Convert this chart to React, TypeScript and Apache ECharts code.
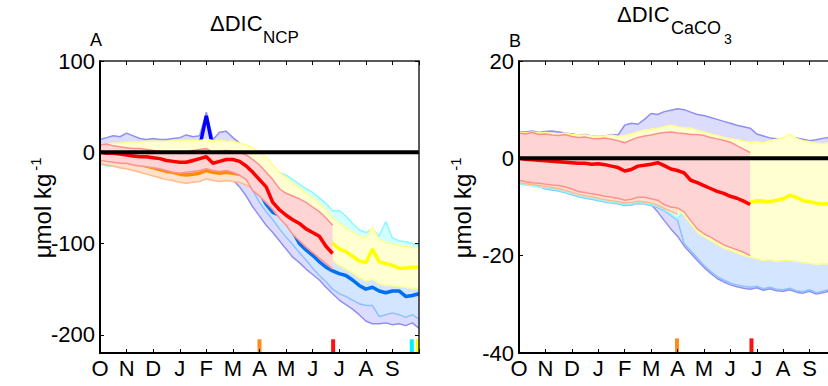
import React, { useEffect, useRef } from 'react';
import * as echarts from 'echarts';

const FONT = '"Liberation Sans", Arial, Helvetica, sans-serif';
const STEP = 0.25; // months between samples (Oct 1 = 0)
const monthLabels = ['O', 'N', 'D', 'J', 'F', 'M', 'A', 'M', 'J', 'J', 'A', 'S'];
const xRange = [0, 12];
const yRangeA = [-220, 100];
const yTicksA = [-200, -100, 0, 100];
const yRangeB = [-40, 20];
const yTicksB = [-40, -20, 0, 20];
const zeroLevel = 0;

const endMarkA = [6.0, 8.77, 11.73, 11.95];
const endMarkColorsA = ['#ff8c1a', '#ff1010', '#00f0ff', '#ffff00'];
const endMarkSpanA = [-220, -205];
const endMarkB = [5.98, 8.8];
const endMarkColorsB = ['#ff8c1a', '#ff1010'];
const endMarkSpanB = [-40, -37];

// ---------------- Panel A : ΔDIC_NCP ----------------
const purpleHiA = [14,16,18,17,21,18,15,14,15,14,14,15,16,19,17,18,44,14,22,23,16,10,0,-4,-8,-13,-22,-30,-36,-42,-47,-53,-58,-64,-71,-80,-86,-91,-96,-100,-102,-100,-104,-107,-109,-110,-111,-112,-113];
const purpleLoA = [-8,-9,-10,-12,-13,-15,-16,-17,-19,-20,-21,-23,-24,-24,-23,-22,-19,-21,-22,-24,-30,-38,-48,-60,-70,-80,-88,-97,-106,-115,-121,-128,-134,-140,-148,-155,-162,-167,-172,-178,-185,-188,-188,-187,-189,-188,-190,-187,-193];
const purpleMeanA = [3,4,5,4,6,5,3,3,4,3,3,4,5,6,5,6,40,4,8,9,4,-10,-22,-34,-46,-52,-58,-67,-76,-84,-92,-100,-106,-113,-118,-122,-125,-127,-132,-138,-142,-140,-144,-146,-144,-144,-150,-149,-147];

const lbHiA = [6,6,6,5,5,5,4,4,4,3,3,3,3,3,3,3,4,3,3,3,2,2,-10,-22,-34,-40,-46,-55,-64,-72,-80,-88,-94,-101,-106,-110,-113,-115,-120,-126,-130,-128,-132,-134,-132,-132,-138,-137,-135];
const lbLoA = [-7,-8,-9,-11,-12,-14,-15,-16,-18,-19,-20,-22,-23,-23,-22,-21,-18,-20,-21,-22,-24,-26,-32,-42,-55,-65,-74,-84,-93,-101,-110,-118,-127,-135,-142,-150,-155,-158,-162,-166,-168,-168,-180,-178,-176,-178,-181,-178,-183];
const lbMeanA = [-2,-3,-3,-4,-5,-6,-7,-7,-8,-9,-11,-12,-13,-13,-11,-9,-7,-14,-12,-10,-10,-18,-26,-36,-44,-57,-66,-69,-77,-87,-100,-107,-113,-120,-126,-130,-133,-135,-140,-146,-150,-148,-152,-154,-152,-152,-158,-157,-155];

const cyanHiA = [3,4,3,3,4,5,4,3,4,5,4,3,4,5,6,5,6,5,4,3,2,2,-2,-6,-10,-14,-18,-22,-25,-30,-35,-40,-44,-50,-56,-64,-64,-70,-78,-85,-88,-84,-92,-76,-94,-97,-98,-100,-102];
const cyanLoA = [-13,-15,-15,-17,-17,-19,-20,-21,-22,-23,-24,-25,-26,-26,-25,-24,-22,-24,-24,-23,-24,-20,-27,-35,-43,-50,-57,-65,-71,-77,-83,-90,-95,-101,-107,-113,-119,-123,-127,-132,-136,-134,-139,-141,-141,-142,-143,-144,-144];

const yellowHiA = [8,9,10,10,11,11,11,12,12,12,12,13,13,13,13,13,14,13,13,12,12,10,8,5,0,-5,-14,-22,-28,-34,-39,-45,-50,-56,-63,-72,-78,-83,-88,-92,-94,-82,-96,-99,-101,-102,-103,-104,-105];
const yellowLoA = [-10,-11,-12,-13,-14,-15,-16,-17,-18,-19,-20,-21,-22,-22,-21,-20,-18,-20,-20,-20,-22,-25,-32,-40,-48,-55,-62,-70,-76,-82,-88,-95,-100,-106,-112,-118,-124,-128,-132,-137,-141,-139,-144,-146,-146,-147,-148,-149,-149];
const yellowMeanA = [2,1,1,0,-1,-2,-3,-3,-4,-5,-7,-8,-9,-9,-7,-5,-3,-10,-8,-6,-6,-4,-8,-14,-21,-29,-42,-51,-57,-61,-65,-70,-75,-80,-90,-100,-106,-109,-114,-119,-121,-106,-120,-122,-124,-127,-127,-126,-126];

const orangeHiA = [5,3,2,0,-1,-3,-5,-7,-9,-11,-13,-14,-16,-17,-16,-15,-12,-14,-15,-14,-15,-16,-19,-23,-26];
const orangeLoA = [-12,-14,-15,-17,-18,-20,-22,-24,-26,-28,-30,-31,-33,-34,-33,-32,-29,-31,-32,-31,-32,-33,-36,-40,-43];
const orangeMeanA = [-3,-5,-6,-8,-9,-11,-13,-15,-17,-19,-21,-22,-24,-25,-24,-23,-20,-22,-23,-22,-23,-24,-27,-31,-34];

const redHiA = [8,9,7,6,5,4,4,3,2,1,0,-1,-1,0,2,3,4,0,1,2,1,0,-3,-8,-14,-22,-30,-40,-45,-48,-51,-55,-60,-65,-72,-80];
const redLoA = [-9,-10,-11,-12,-12,-14,-15,-16,-17,-18,-20,-22,-23,-22,-21,-20,-18,-20,-21,-20,-22,-25,-30,-42,-48,-55,-63,-72,-80,-90,-97,-104,-110,-116,-122,-128];
const redMeanA = [0,-1,-1,-2,-3,-4,-5,-5,-6,-7,-9,-10,-11,-11,-9,-7,-5,-12,-10,-8,-8,-10,-15,-22,-30,-38,-55,-63,-69,-74,-78,-84,-88,-92,-103,-111];

// ---------------- Panel B : ΔDIC_CaCO3 ----------------
const purpleHiB = [5.5,5.4,5.6,5.3,5.5,5.6,5.4,5.2,5.0,4.8,4.9,4.6,4.5,4.6,4.9,4.8,6.8,7.2,7.0,8.0,9.2,9.0,9.6,9.9,10.2,10.0,9.5,9.0,8.8,8.4,8.0,7.6,7.2,6.8,6.5,6.2,5.0,4.6,4.2,4.0,3.7,4.0,4.2,3.9,3.6,3.8,4.1,4.3,4.2];
const purpleLoB = [-4.9,-5.1,-5.3,-5.4,-5.5,-5.7,-5.9,-6.2,-6.6,-7.0,-7.3,-7.6,-7.9,-8.2,-8.4,-8.5,-8.7,-8.8,-8.7,-9.0,-9.5,-11.0,-12.8,-14.5,-16.0,-18.0,-19.5,-21.0,-22.4,-23.6,-24.7,-25.4,-26.0,-26.4,-26.7,-26.9,-26.6,-27.1,-26.8,-27.2,-27.3,-27.0,-27.5,-27.7,-27.3,-27.9,-27.6,-27.3,-27.5];

const lbHiB = [4.7,4.5,4.8,4.4,4.5,4.3,4.2,4.4,4.0,3.8,3.9,3.6,3.5,3.7,3.4,3.1,2.7,3.3,3.8,4.1,4.3,4.6,4.8,4.9,4.7,4.6,4.4,4.4,4.2,3.8,3.5,3.2,2.8,2.1,1.4,-18.3,-18.6,-19.0,-18.8,-19.2,-19.0,-18.9,-19.2,-19.4,-19.5,-19.8,-19.6,-19.7,-19.8];
const lbLoB = [-5.1,-5.3,-5.5,-5.8,-6.3,-6.5,-6.7,-7.1,-7.5,-7.9,-8.2,-8.4,-8.7,-9.0,-9.2,-9.4,-9.7,-9.6,-9.3,-9.4,-9.7,-10.1,-10.8,-11.7,-12.7,-17.5,-19.0,-20.5,-22.0,-23.2,-24.3,-25.0,-25.6,-26.0,-26.3,-26.5,-26.3,-26.8,-26.5,-26.9,-27.0,-26.7,-27.2,-27.4,-27.0,-27.6,-27.3,-27.0,-27.2];

const cyanHiB = [4.6,4.4,4.7,4.3,4.4,4.2,4.1,4.3,3.9,3.7,3.8,3.5,3.4,3.6,3.3,3.0,2.6,3.2,3.7,4.0,4.2,4.5,4.7,4.8,4.6,4.5,4.3,4.3,4.1,3.7,3.4,3.1,2.7,2.0,1.3,-18.4,-18.7,-19.1,-18.9,-19.3,-19.1,-19.0,-19.3,-19.5,-19.6,-19.9,-19.7,-19.8,-19.9];
const cyanLoB = [-5.3,-5.5,-5.7,-5.9,-6.1,-6.3,-6.5,-6.9,-7.3,-7.7,-8.0,-8.2,-8.5,-8.8,-9.0,-9.2,-9.5,-9.4,-9.1,-9.2,-9.5,-9.9,-10.6,-11.5,-12.5,-10.7,-12.5,-14.2,-15.2,-15.9,-16.7,-17.5,-18.0,-18.5,-19.0,-19.7,-20.1,-20.5,-20.3,-20.7,-20.5,-20.4,-20.7,-20.9,-21.0,-21.3,-21.1,-21.2,-21.3];

const yellowHiB = [5.4,5.2,5.4,5.2,5.3,5.1,5.0,5.2,4.9,4.8,4.8,4.6,4.5,4.6,4.8,4.5,4.7,5.0,5.4,5.8,6.0,6.2,6.5,6.8,6.5,6.3,6.2,5.8,5.4,5.0,4.7,4.3,4.0,3.8,3.5,3.3,3.4,3.2,3.6,3.9,4.2,5.0,4.1,3.6,3.4,3.1,3.0,3.2,3.3];
const yellowLoB = [-4.9,-5.2,-5.4,-5.5,-5.7,-5.9,-6.0,-6.3,-6.7,-7.2,-7.4,-7.7,-7.9,-8.2,-8.4,-8.6,-9.0,-8.8,-8.4,-8.4,-8.7,-9.0,-9.9,-10.4,-10.6,-11.6,-13.4,-15.1,-16.1,-16.8,-17.6,-18.4,-18.9,-19.4,-19.9,-20.3,-20.6,-21.0,-20.8,-21.2,-21.0,-20.9,-21.2,-21.4,-21.5,-21.8,-21.6,-21.7,-21.8];
const yellowMeanB = [-0.5,-0.7,-0.8,-0.9,-1.0,-1.1,-1.2,-1.3,-1.4,-1.5,-1.5,-1.7,-1.6,-1.8,-2.1,-2.4,-3.1,-2.8,-2.1,-1.9,-1.7,-1.4,-2.0,-2.7,-3.0,-3.5,-5.0,-5.5,-6.1,-6.7,-7.3,-7.7,-8.3,-8.7,-9.3,-9.0,-8.7,-8.8,-8.9,-8.6,-8.3,-7.6,-8.0,-8.7,-8.9,-9.2,-9.4,-9.3,-9.2];

const orangeHiB = [4.7,4.5,4.8,4.4,4.5,4.3,4.2,4.4,4.0,3.8,3.9,3.6,3.5,3.7,3.4,3.1,2.7,3.3,3.8,4.1,4.3,4.6,4.8,4.9,4.7];
const orangeLoB = [-5.0,-5.2,-5.4,-5.6,-5.8,-6.0,-6.2,-6.6,-7.0,-7.4,-7.7,-7.9,-8.2,-8.5,-8.7,-8.9,-9.2,-9.1,-8.8,-8.9,-9.2,-9.6,-10.3,-10.9,-11.5];

const redHiB = [5.2,5.0,5.3,4.9,5.0,4.8,4.7,4.9,4.5,4.3,4.4,4.1,4.0,4.2,3.9,3.6,3.2,3.8,4.3,4.6,4.8,5.1,5.3,5.4,5.2,5.1,4.9,4.9,4.7,4.3,4.0,3.7,3.3,2.6,1.9,1.2];
const redLoB = [-4.5,-4.8,-5.0,-5.1,-5.3,-5.5,-5.6,-5.9,-6.3,-6.8,-7.0,-7.3,-7.5,-7.8,-8.0,-8.2,-8.6,-8.4,-8.0,-8.0,-8.3,-8.6,-9.5,-10.0,-10.2,-11.0,-12.8,-14.5,-15.5,-16.2,-17.0,-17.8,-18.3,-18.8,-19.3,-20.0];
const redMeanB = [0,-0.2,-0.3,-0.4,-0.5,-0.6,-0.7,-0.8,-0.9,-1.0,-1.0,-1.2,-1.1,-1.3,-1.6,-1.9,-2.6,-2.3,-1.6,-1.4,-1.2,-0.9,-1.5,-2.2,-2.5,-3.0,-4.5,-5.0,-5.6,-6.2,-6.8,-7.2,-7.8,-8.2,-8.8,-9.5];

const PAL = {
  purple: { fill: '#dcdcff', edge: '#8f8ff2', mean: '#0000ff' },
  lb: { fill: '#d4e6ff', edge: '#8ec0ff', mean: '#0070f0' },
  cyan: { fill: '#d4ffff', edge: '#8cf8ff' },
  yellow: { fill: '#ffffd2', edge: '#ffff8c', mean: '#ffff00' },
  orange: { fill: '#ffe2cc', edge: '#ffba8c', mean: '#ff8c00' },
  red: { fill: '#ffd4d4', edge: '#ff9090', mean: '#ff0000' },
};

const pts = (ys: number[]) => ys.map((y, k) => [k * STEP, y]);

export default function App() {
  const ref = useRef<HTMLDivElement>(null);
  useEffect(() => {
    const chart = echarts.init(ref.current!, null, { renderer: 'svg' });
    const series: any[] = [];
    let z = 1;
    const band = (ax: number, lo: number[], hi: number[], fill: string) => {
      series.push({
        type: 'custom', xAxisIndex: ax, yAxisIndex: ax, z: z++, silent: true,
        data: [[0, 0]],
        renderItem: (_p: any, api: any) => {
          const points: number[][] = [];
          for (let k = 0; k < hi.length; k++) points.push(api.coord([k * STEP, hi[k]]));
          for (let k = lo.length - 1; k >= 0; k--) points.push(api.coord([k * STEP, lo[k]]));
          return { type: 'polygon', shape: { points }, style: { fill } };
        },
      });
    };
    const line = (ax: number, data: number[][], color: string, width: number) => {
      series.push({
        type: 'line', xAxisIndex: ax, yAxisIndex: ax, z: z++, silent: true,
        symbol: 'none', showSymbol: false, data, emphasis: { disabled: true },
        lineStyle: { color, width }, animation: false,
      });
    };
    const group = (ax: number, lo: number[], hi: number[], mean: number[] | null, p: any) => {
      band(ax, lo, hi, p.fill);
      line(ax, pts(hi), p.edge, 1.5);
      line(ax, pts(lo), p.edge, 1.5);
      if (mean) line(ax, pts(mean), p.mean, 3.5);
    };

    // Panel A
    group(0, purpleLoA, purpleHiA, purpleMeanA, PAL.purple);
    group(0, lbLoA, lbHiA, lbMeanA, PAL.lb);
    group(0, cyanLoA, cyanHiA, null, PAL.cyan);
    group(0, yellowLoA, yellowHiA, yellowMeanA, PAL.yellow);
    group(0, orangeLoA, orangeHiA, orangeMeanA, PAL.orange);
    group(0, redLoA, redHiA, redMeanA, PAL.red);
    line(0, [[xRange[0], zeroLevel], [xRange[1], zeroLevel]], '#000', 4);
    endMarkA.forEach((m, i) => line(0, [[m, endMarkSpanA[0]], [m, endMarkSpanA[1]]], endMarkColorsA[i], 4));

    // Panel B
    group(2, purpleLoB, purpleHiB, null, PAL.purple);
    group(2, lbLoB, lbHiB, null, PAL.lb);
    group(2, cyanLoB, cyanHiB, null, PAL.cyan);
    group(2, yellowLoB, yellowHiB, yellowMeanB, PAL.yellow);
    group(2, orangeLoB, orangeHiB, null, PAL.orange);
    group(2, redLoB, redHiB, redMeanB, PAL.red);
    line(2, [[xRange[0], zeroLevel], [xRange[1], zeroLevel]], '#000', 4);
    endMarkB.forEach((m, i) => line(2, [[m, endMarkSpanB[0]], [m, endMarkSpanB[1]]], endMarkColorsB[i], 4));

    const lbl = { color: '#000', fontSize: 22, fontFamily: FONT };
    const mainLine = { show: true, onZero: false, lineStyle: { color: '#000', width: 2 } };
    const sideLine = { show: true, onZero: false, lineStyle: { color: '#222', width: 1.5 } };
    const tick = { show: true, inside: true, length: 4, lineStyle: { color: '#000', width: 1 } };
    const xBottom = (g: number) => ({
      gridIndex: g, type: 'value', min: xRange[0], max: xRange[1], interval: 1, position: 'bottom', z: 200,
      axisLine: mainLine, axisTick: tick, splitLine: { show: false },
      axisLabel: { ...lbl, margin: 4, formatter: (v: number) => monthLabels[v] ?? '' },
    });
    const xTop = (g: number) => ({
      gridIndex: g, type: 'value', min: xRange[0], max: xRange[1], interval: 1, position: 'top', z: 200,
      axisLine: sideLine, axisTick: tick, splitLine: { show: false }, axisLabel: { show: false },
    });
    const txt = (x: number, y: number, text: string, fontSize: number, extra: any = {}) => ({
      type: 'text', x, y, ...extra,
      style: { text, fontSize, fontFamily: FONT, fill: '#000', verticalAlign: 'middle', ...(extra.style || {}) },
    });

    chart.setOption({
      animation: false,
      textStyle: { fontFamily: FONT },
      grid: [
        { left: 100, top: 61, width: 319, height: 292, outerBoundsMode: 'none', containLabel: false },
        { left: 519, top: 61, width: 317, height: 292, outerBoundsMode: 'none', containLabel: false },
      ],
      xAxis: [xBottom(0), xTop(0), xBottom(1), xTop(1)],
      yAxis: [
        { gridIndex: 0, type: 'value', min: yRangeA[0], max: yRangeA[1], position: 'left', z: 200,
          axisLine: mainLine, splitLine: { show: false },
          axisTick: { ...tick, customValues: yTicksA },
          axisLabel: { ...lbl, margin: 5, customValues: yTicksA } },
        { gridIndex: 0, type: 'value', min: yRangeA[0], max: yRangeA[1], position: 'right', z: 200,
          axisLine: sideLine, splitLine: { show: false },
          axisTick: { ...tick, customValues: yTicksA }, axisLabel: { show: false } },
        { gridIndex: 1, type: 'value', min: yRangeB[0], max: yRangeB[1], interval: 20, position: 'left', z: 200,
          axisLine: mainLine, splitLine: { show: false },
          axisTick: { ...tick, customValues: yTicksB },
          axisLabel: { ...lbl, margin: 5, customValues: yTicksB } },
        { gridIndex: 1, type: 'value', min: yRangeB[0], max: yRangeB[1], interval: 20, position: 'right', z: 200,
          axisLine: sideLine, splitLine: { show: false }, axisTick: tick, axisLabel: { show: false } },
      ],
      series,
      graphic: [
        txt(210, 23, 'ΔDIC', 22),
        txt(263, 37.5, 'NCP', 17),
        txt(90, 39.5, 'A', 18),
        txt(617, 14.5, 'ΔDIC', 22),
        txt(671, 27.5, 'CaCO', 18),
        txt(724, 38.5, '3', 14),
        txt(509, 40.5, 'B', 18),
        txt(42, 216, 'μmol kg', 24, { rotation: Math.PI / 2, style: { align: 'center' } }),
        txt(35, 164, '-1', 15, { rotation: Math.PI / 2, style: { align: 'center' } }),
        txt(462, 216, 'μmol kg', 24, { rotation: Math.PI / 2, style: { align: 'center' } }),
        txt(455, 164, '-1', 15, { rotation: Math.PI / 2, style: { align: 'center' } }),
      ],
    });
    return () => chart.dispose();
  }, []);
  return (
    <div style={{ position: 'fixed', left: 0, top: 0, width: 828, height: 386, overflow: 'hidden', background: '#fff' }}>
      <div ref={ref} style={{ width: 840, height: 386 }} />
    </div>
  );
}
